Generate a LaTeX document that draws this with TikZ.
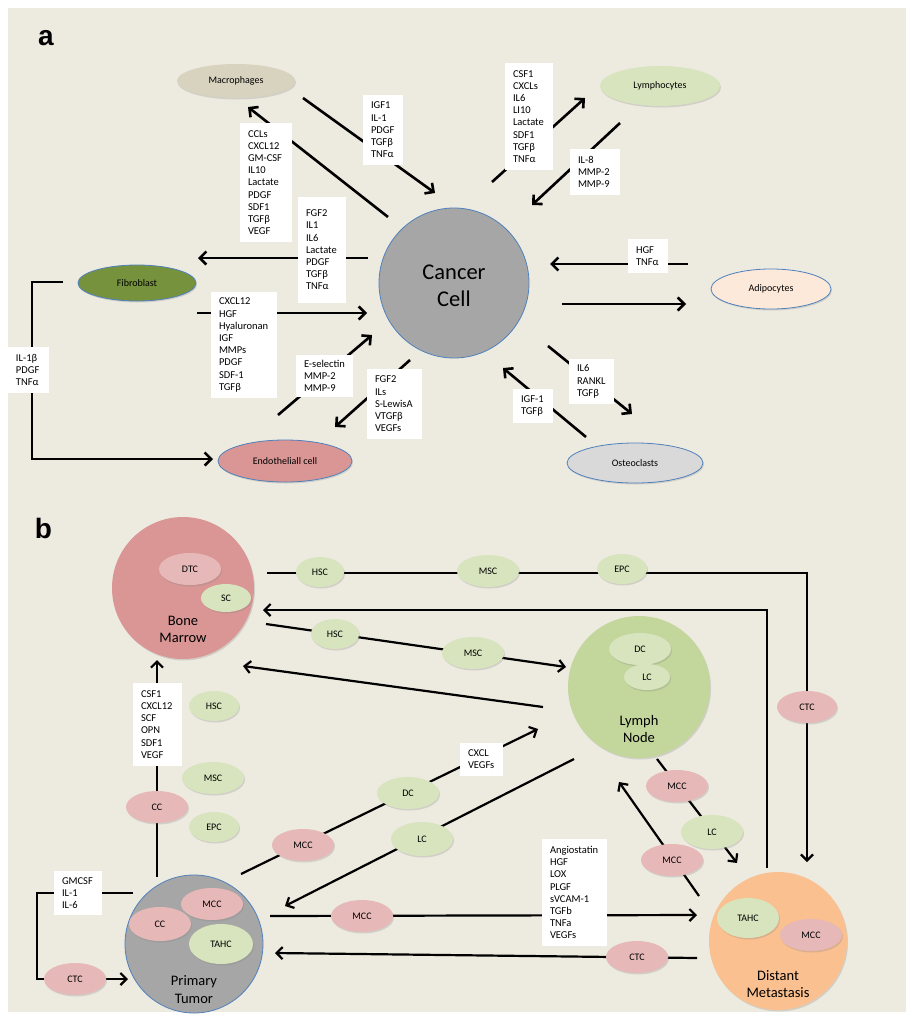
\documentclass[tikz,border=0pt]{standalone}
\usepackage{fontspec}
\setmainfont{Carlito}
\newfontfamily\arialb{Liberation Sans}
\usetikzlibrary{shapes.geometric,arrows.meta,shadows}
\pgfdeclarelayer{back}
\pgfdeclarelayer{lines}
\pgfsetlayers{back,lines,main}
\definecolor{bgc}{HTML}{EDEAE0}
\definecolor{grayC}{HTML}{A6A6A6}
\definecolor{blueE}{HTML}{4F81BD}
\definecolor{macro}{HTML}{D8D3BF}
\definecolor{greenL}{HTML}{D7E4BD}
\definecolor{fibro}{HTML}{76923C}
\definecolor{endo}{HTML}{D99694}
\definecolor{adipo}{HTML}{FDE9D9}
\definecolor{osteo}{HTML}{D9D9D9}
\definecolor{pinkL}{HTML}{E6B9B8}
\definecolor{lnC}{HTML}{C3D69B}
\definecolor{dmC}{HTML}{FAC090}
\newcommand\lbf{\fontsize{10.5}{12.2}\selectfont}
\newcommand\elf{\fontsize{10}{12}\selectfont}
\newcommand\bigf{\fontsize{14.5}{17.5}\selectfont}
\begin{document}
\begin{tikzpicture}[x=1pt,y=-1pt,
  lab/.style n args={3}{fill=white, inner xsep=8pt, inner ysep=0pt, minimum width=#1pt, minimum height=#2pt, text width=#3pt, align=left, font=\lbf},
  el/.style n args={3}{ellipse, inner sep=0pt, minimum width=#1pt, minimum height=#2pt, fill=#3, font=\elf, drop shadow={shadow xshift=1pt, shadow yshift=-1.5pt, opacity=.25}},
  bigc/.style n args={2}{circle, inner sep=0pt, minimum size=#1pt, fill=#2, drop shadow={shadow xshift=1pt, shadow yshift=-1.5pt, opacity=.25}},
  bl/.style={draw=blueE, line width=0.8pt},
  bigt/.style={font=\bigf, align=center, inner sep=0pt},
  arA/.style={line width=2.6pt, -{Straight Barb[length=6.5pt,width=13pt]}},
  lnA/.style={line width=2.6pt},
  arB/.style={line width=2.2pt, -{Straight Barb[length=6pt,width=12pt]}},
  lnB/.style={line width=2.2pt},
]
\begin{pgfonlayer}{back}
\fill[white] (0,0) rectangle (906,1017);
\fill[bgc] (8,8) rectangle (906,1012);
\end{pgfonlayer}

% ---------------- panel a ----------------
\node[font=\arialb\bfseries\fontsize{28}{30}\selectfont, inner sep=0pt] (pa) at (46,38.5) {a};
\node[el={118}{34}{macro}] (mac) at (236,81) {Macrophages};
\node[el={120}{40}{greenL}] (lym) at (660,86) {Lymphocytes};
\node[circle, inner sep=0pt, minimum size=150pt, fill=grayC, bl] (cc) at (454,283) {};
\node[font=\fontsize{22.5}{27}\selectfont, align=center, inner sep=0pt] (cct) at (454,286) {Cancer\\Cell};
\node[el={118}{36}{fibro}, bl] (fib) at (137,283) {Fibroblast};
\node[el={134}{42}{endo}, bl] (endo) at (285,461) {Endotheliall cell};
\node[el={120}{40}{adipo}, bl] (adi) at (771,289) {Adipocytes};
\node[el={136}{40}{osteo}, bl] (ost) at (635,463) {Osteoclasts};

\node[lab={52}{119}{36}] (l1) at (266,182.5) {CCLs\\CXCL12\\GM-CSF\\IL10\\Lactate\\PDGF\\SDF1\\TGFβ\\VEGF};
\node[lab={40}{70}{24}] (l2) at (383,130) {IGF1\\IL-1\\PDGF\\TGFβ\\TNFα};
\node[lab={48}{107}{32}] (l3) at (529,116.5) {CSF1\\CXCLs\\IL6\\LI10\\Lactate\\SDF1\\TGFβ\\TNFα};
\node[lab={50}{46}{34}] (l4) at (595,172) {IL-8\\MMP-2\\MMP-9};
\node[lab={48}{106}{32}] (l5) at (322,250) {FGF2\\IL1\\IL6\\Lactate\\PDGF\\TGFβ\\TNFα};
\node[lab={66}{106}{50}] (l6) at (244,345) {CXCL12\\HGF\\Hyaluronan\\IGF\\MMPs\\PDGF\\SDF-1\\TGFβ};
\node[lab={57}{42}{41}] (l7) at (324.5,376) {E-selectin\\MMP-2\\MMP-9};
\node[lab={55}{70}{39}] (l8) at (394.5,404) {FGF2\\ILs\\S-LewisA\\VTGFβ\\VEGFs};
\node[lab={41}{46}{25}] (l9) at (28.5,370) {IL-1β\\PDGF\\TNFα};
\node[lab={40}{34}{24}] (l10) at (648,256) {HGF\\TNFα};
\node[lab={45}{45}{29}] (l11) at (591.5,381.5) {IL6\\RANKL\\TGFβ};
\node[lab={40}{34}{24}] (l12) at (533,406) {IGF-1\\TGFβ};

\coordinate (a1s) at (388,217); \coordinate (a1e) at (248,107);
\coordinate (a2s) at (303,98);  \coordinate (a2e) at (435,193);
\coordinate (a3s) at (492,182); \coordinate (a3e) at (585,98);
\coordinate (a4s) at (620,123); \coordinate (a4e) at (532,205);
\coordinate (a5s) at (368,258); \coordinate (a5e) at (198,258);
\coordinate (a6s) at (197,313); \coordinate (a6e) at (367,313);
\coordinate (a7s) at (278,415); \coordinate (a7e) at (372,335);
\coordinate (a8s) at (410,360); \coordinate (a8e) at (335,427);
\coordinate (a9s) at (63,282);  \coordinate (a9a) at (32,282); \coordinate (a9b) at (32,459); \coordinate (a9e) at (213,459);
\coordinate (a10s) at (688,264); \coordinate (a10e) at (550,264);
\coordinate (a11s) at (562,304); \coordinate (a11e) at (686,304);
\coordinate (a12s) at (548,346); \coordinate (a12e) at (632,414);
\coordinate (a13s) at (586,437); \coordinate (a13e) at (503,368);

\begin{pgfonlayer}{lines}
\draw[arA] (a1s) -- (a1e);
\draw[arA] (a2s) -- (a2e);
\draw[arA] (a3s) -- (a3e);
\draw[arA] (a4s) -- (a4e);
\draw[arA] (a5s) -- (a5e);
\draw[arA] (a6s) -- (a6e);
\draw[arA] (a7s) -- (a7e);
\draw[arA] (a8s) -- (a8e);
\draw[arA] (a9s) -- (a9a) -- (a9b) -- (a9e);
\draw[arA] (a10s) -- (a10e);
\draw[arA] (a11s) -- (a11e);
\draw[arA] (a12s) -- (a12e);
\draw[arA] (a13s) -- (a13e);
\end{pgfonlayer}

% ---------------- panel b ----------------
\node[font=\arialb\bfseries\fontsize{28}{30}\selectfont, inner sep=0pt] (pb) at (43.5,528) {b};

\node[bigc={142}{endo}] (bm) at (183,588) {};
\node[bigt] (bmt) at (183,629.5) {Bone\\Marrow};
\node[el={62}{32}{pinkL}] (dtc) at (190,569) {DTC};
\node[el={50}{28}{greenL}] (sc) at (226,598) {SC};

\node[el={48}{30}{greenL}] (hsc1) at (320,572) {HSC};
\node[el={62}{32}{greenL}] (msc1) at (488,571) {MSC};
\node[el={50}{30}{greenL}] (epc1) at (622,569) {EPC};
\node[el={60}{32}{pinkL}] (ctc1) at (807,707) {CTC};
\node[el={48}{30}{greenL}] (hsc2) at (335,634) {HSC};
\node[el={62}{32}{greenL}] (msc2) at (473,653) {MSC};

\node[bigc={142}{lnC}] (ln) at (639,687) {};
\node[bigt] (lnt) at (639,729) {Lymph\\Node};
\node[el={62}{32}{greenL}] (dc1) at (640,649) {DC};
\node[el={46}{26}{greenL}] (lc1) at (647,677) {LC};

\node[el={50}{30}{greenL}] (hsc3) at (214,706) {HSC};
\node[el={62}{32}{greenL}] (msc3) at (213,778) {MSC};
\node[el={50}{30}{greenL}] (epc3) at (214,827) {EPC};
\node[el={62}{32}{pinkL}] (cc1) at (157,807) {CC};
\node[lab={49}{83}{33}] (lb1) at (157.5,724.5) {CSF1\\CXCL12\\SCF\\OPN\\SDF1\\VEGF};

\node[circle, inner sep=0pt, minimum size=138pt, fill=grayC, bl] (pt) at (194,944) {};
\node[bigt] (ptt) at (194,989.5) {Primary\\Tumor};
\node[el={62}{32}{pinkL}] (mcc1) at (212,904) {MCC};
\node[el={62}{34}{pinkL}] (cc2) at (160,924) {CC};
\node[el={64}{40}{greenL}] (tahc1) at (221,944) {TAHC};

\node[lab={48}{44}{32}] (lb3) at (78,893) {GMCSF\\IL-1\\IL-6};
\node[el={62}{32}{pinkL}] (ctc2) at (75,979) {CTC};

\node[el={62}{32}{pinkL}] (mcc2) at (303,845) {MCC};
\node[el={62}{32}{greenL}] (dc2) at (408,793) {DC};
\node[lab={43}{33}{27}] (lb2) at (481.5,759.5) {CXCL\\VEGFs};
\node[el={62}{34}{greenL}] (lc2) at (422,839) {LC};
\node[el={62}{32}{pinkL}] (mcc3) at (362,916) {MCC};
\node[lab={65}{107}{49}] (lb4) at (574.5,892.5) {Angiostatin\\HGF\\LOX\\PLGF\\sVCAM-1\\TGFb\\TNFa\\VEGFs};
\node[el={62}{32}{pinkL}] (ctc3) at (637,957) {CTC};
\node[el={62}{32}{pinkL}] (mcc4) at (677,786) {MCC};
\node[el={62}{34}{greenL}] (lc3) at (712,832) {LC};
\node[el={62}{32}{pinkL}] (mcc5) at (672,860) {MCC};

\node[bigc={138}{dmC}] (dm) at (778,941) {};
\node[bigt] (dmt) at (778,984) {Distant\\Metastasis};
\node[el={62}{40}{greenL}] (tahc2) at (748,918) {TAHC};
\node[el={62}{32}{pinkL}] (mcc6) at (811,935) {MCC};

\coordinate (b1s) at (267,573); \coordinate (b1a) at (807,573); \coordinate (b1e) at (807,862);
\coordinate (b2s) at (767,868); \coordinate (b2a) at (767,610); \coordinate (b2e) at (263,610);
\coordinate (b3s) at (266,624); \coordinate (b3e) at (566,667);
\coordinate (b4s) at (543,707); \coordinate (b4e) at (243,666);
\coordinate (b5s) at (157,877); \coordinate (b5e) at (157,660);
\coordinate (b6s) at (133,893); \coordinate (b6a) at (37,893); \coordinate (b6b) at (37,979); \coordinate (b6e) at (128,979);
\coordinate (b7s) at (241,874); \coordinate (b7e) at (538,729);
\coordinate (b8s) at (574,759); \coordinate (b8e) at (285,906);
\coordinate (b9s) at (270,916); \coordinate (b9e) at (697,915);
\coordinate (b10s) at (697,958); \coordinate (b10e) at (275,953);
\coordinate (b11s) at (657,759); \coordinate (b11e) at (737,863);
\coordinate (b12s) at (699,896); \coordinate (b12e) at (619,782);

\begin{pgfonlayer}{lines}
\draw[arB] (b1s) -- (b1a) -- (b1e);
\draw[arB] (b2s) -- (b2a) -- (b2e);
\draw[arB] (b3s) -- (b3e);
\draw[arB] (b4s) -- (b4e);
\draw[arB] (b5s) -- (b5e);
\draw[arB] (b6s) -- (b6a) -- (b6b) -- (b6e);
\draw[arB] (b7s) -- (b7e);
\draw[arB] (b8s) -- (b8e);
\draw[arB] (b9s) -- (b9e);
\draw[arB] (b10s) -- (b10e);
\draw[arB] (b11s) -- (b11e);
\draw[arB] (b12s) -- (b12e);
\end{pgfonlayer}
\end{tikzpicture}
\end{document}
